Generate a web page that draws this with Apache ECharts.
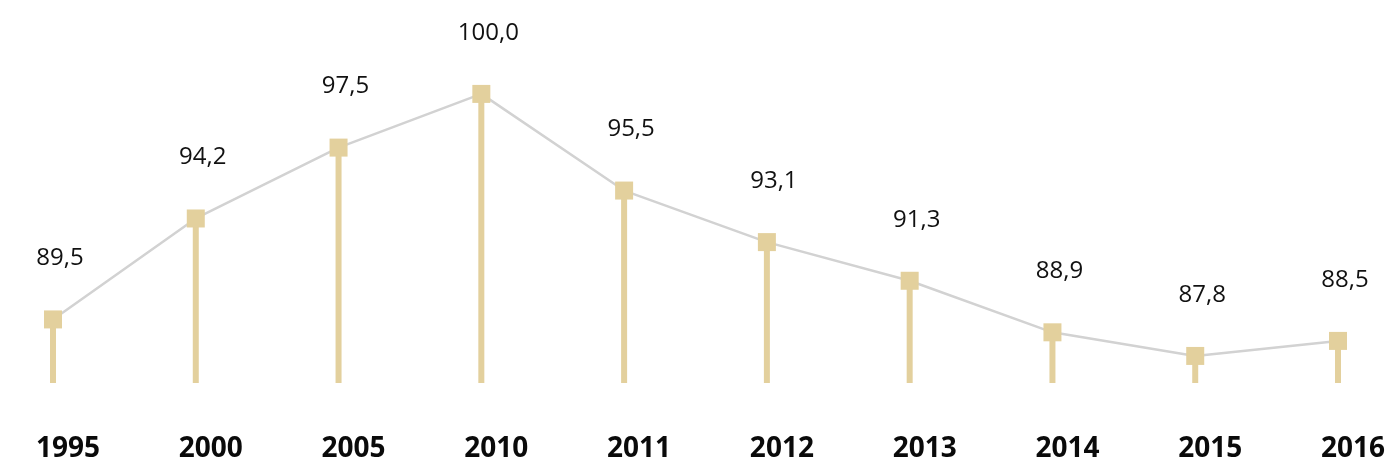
<!DOCTYPE html>
<html>
<head>
<meta charset="utf-8">
<script src="https://cdn.jsdelivr.net/npm/echarts@6/dist/echarts.min.js"></script>
<style>
  html, body { margin: 0; padding: 0; background: #ffffff; }
  #chart { width: 1389px; height: 468px; }
</style>
</head>
<body>
<div id="chart"></div>
<script>
const years = ['1995', '2000', '2005', '2010', '2011', '2012', '2013', '2014', '2015', '2016'];
const indexValues = [89.5, 94.2, 97.5, 100.0, 95.5, 93.1, 91.3, 88.9, 87.8, 88.5];

const stemColor = '#e3d09d';
const lineColor = '#d2d2d2';

const chart = echarts.init(document.getElementById('chart'), null, { renderer: 'canvas' });

const fmt = (v) => v.toFixed(1).replace('.', ',');

chart.setOption({
  animation: false,
  textStyle: { fontFamily: 'Open Sans' },
  grid: { left: 53, right: 51, top: 40, bottom: 85 },
  xAxis: {
    type: 'category',
    data: years,
    boundaryGap: false,
    axisLine: { show: false },
    axisTick: { show: false },
    splitLine: { show: false },
    axisLabel: {
      margin: 52,
      color: '#0a0a0a',
      fontSize: 28,
      fontWeight: 'bold',
      fontFamily: 'Open Sans',
      padding: [0, 0, 0, 30]
    }
  },
  yAxis: {
    type: 'value',
    min: 86.54,
    max: 102.51,
    show: false,
    splitLine: { show: false }
  },
  series: [
    {
      name: 'stem',
      type: 'bar',
      data: indexValues,
      barWidth: 6,
      clip: true,
      itemStyle: { color: stemColor },
      silent: true
    },
    {
      name: 'index',
      type: 'line',
      data: indexValues,
      symbol: 'rect',
      symbolSize: 18,
      lineStyle: { color: lineColor, width: 2.5 },
      itemStyle: { color: stemColor },
      label: {
        show: true,
        position: 'top',
        distance: 40,
        offset: [7, 0],
        color: '#111111',
        fontSize: 24,
        fontFamily: 'Open Sans',
        formatter: (p) => fmt(p.value)
      },
      z: 3
    }
  ]
});
</script>
</body>
</html>
